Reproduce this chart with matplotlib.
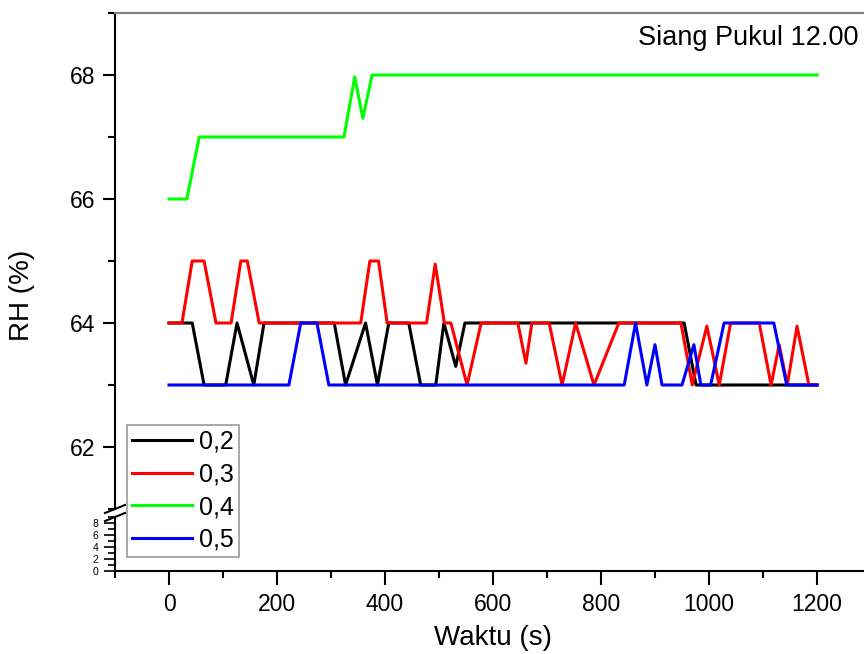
import numpy as np
import matplotlib
matplotlib.use("Agg")
import matplotlib.pyplot as plt
from matplotlib.lines import Line2D

plt.rcParams['font.family'] = ['Liberation Sans', 'DejaVu Sans']

# data (time in s, RH in %)
t_02 = [0, 43, 65, 105, 126, 157, 176, 306, 327, 364, 386, 407, 444, 466, 494,
        509, 531, 548, 954, 976, 1200]
rh_02 = [64, 64, 63, 63, 64, 63, 64, 64, 63, 64, 63, 64, 64, 63, 63,
         64, 63.3, 64, 64, 63, 63]

t_03 = [0, 24, 43, 65, 87, 115, 133, 145, 167, 355, 372, 388, 404, 477, 493,
        510, 522, 552, 578, 646, 661, 672, 704, 728, 753, 787, 833, 948, 969,
        996, 1019, 1040, 1093, 1115, 1130, 1145, 1163, 1185, 1200]
rh_03 = [64, 64, 65, 65, 64, 64, 65, 65, 64, 64, 65, 65, 64, 64, 64.95,
         64, 64, 63, 64, 64, 63.35, 64, 64, 63, 64, 63, 64, 64, 63,
         63.95, 63, 64, 64, 63, 63.65, 63, 63.95, 63, 63]

t_04 = [0, 33, 56, 324, 344, 359, 376, 1200]
rh_04 = [66, 66, 67, 67, 67.97, 67.3, 68, 68]

t_05 = [0, 222, 244, 274, 296, 843, 864, 885, 900, 913, 950, 972, 985, 1003,
        1028, 1120, 1144, 1200]
rh_05 = [63, 63, 64, 64, 63, 63, 64, 63, 63.65, 63, 63, 63.65, 63, 63,
         64, 64, 63, 63]

series = [("0,2", t_02, rh_02, "black"),
          ("0,3", t_03, rh_03, "#ff0000"),
          ("0,4", t_04, rh_04, "#00ff00"),
          ("0,5", t_05, rh_05, "#0000ff")]

W, H = 864, 654
fig = plt.figure(figsize=(W / 100, H / 100), dpi=100)

x0, x1 = 115, 871
ax = fig.add_axes([x0 / W, 1 - 509 / H, (x1 - x0) / W, (509 - 13) / H])
axb = fig.add_axes([x0 / W, 1 - 571 / H, (x1 - x0) / W, (571 - 517) / H])

for lab, t, rh, c in series:
    ax.plot(t, rh, color=c, lw=2.2, label=lab, solid_joinstyle='round')

for a in (ax, axb):
    a.set_xlim(-100, 1300)
    a.spines['right'].set_visible(False)
    a.spines['left'].set_linewidth(1.5)
    a.set_facecolor('none')

ax.set_ylim(61, 69)
ax.set_yticks([62, 64, 66, 68])
ax.set_yticks([61, 63, 65, 67, 69], minor=True)
ax.spines['bottom'].set_visible(False)
ax.spines['top'].set_color('#808080')
ax.spines['top'].set_linewidth(1.5)
ax.tick_params(axis='x', which='both', bottom=False, labelbottom=False)
ax.tick_params(axis='y', which='major', direction='out', length=9, width=1.5,
               labelsize=16.5, pad=5)
ax.tick_params(axis='y', which='minor', direction='out', length=5, width=1.5)

axb.set_ylim(0, 9)
axb.set_yticks([0, 2, 4, 6, 8])
axb.set_yticks(np.arange(0, 10, 1), minor=True)
axb.spines['top'].set_visible(False)
axb.spines['bottom'].set_linewidth(1.5)
axb.set_xticks(np.arange(0, 1201, 200))
axb.set_xticks(np.arange(-100, 1301, 100), minor=True)
axb.tick_params(axis='x', which='major', direction='out', length=10, width=1.5,
                labelsize=16.5, pad=6)
axb.tick_params(axis='x', which='minor', direction='out', length=5, width=1.5)
axb.tick_params(axis='y', which='major', direction='out', length=8, width=1.2,
                labelsize=7.5, pad=4)
axb.tick_params(axis='y', which='minor', direction='out', length=5, width=1.2)

# break marks on the y axis
for yb in (509, 517):
    fig.add_artist(Line2D([105 / W, 125 / W], [1 - (yb + 4) / H, 1 - (yb - 4) / H],
                          color='black', lw=1.5))

fig.text(858 / W, 1 - 38 / H, "Siang Pukul 12.00", ha='right', va='center',
         fontsize=19.5)
fig.text(493 / W, 1 - 638 / H, "Waktu (s)", ha='center', va='center', fontsize=20)
fig.text(22 / W, 1 - 295 / H, "RH (%)", ha='center', va='center', fontsize=20,
         rotation=90)

handles, labels = ax.get_legend_handles_labels()
leg = fig.legend(handles, labels, loc='upper left',
                 bbox_to_anchor=(127 / W, 1 - 425 / H), borderaxespad=0,
                 fontsize=18, frameon=True, fancybox=False, edgecolor='#808080',
                 handlelength=2.4, handletextpad=0.3, labelspacing=0.34,
                 borderpad=0.2)
leg.get_frame().set_linewidth(1.2)

fig.savefig("out.png", dpi=100)
